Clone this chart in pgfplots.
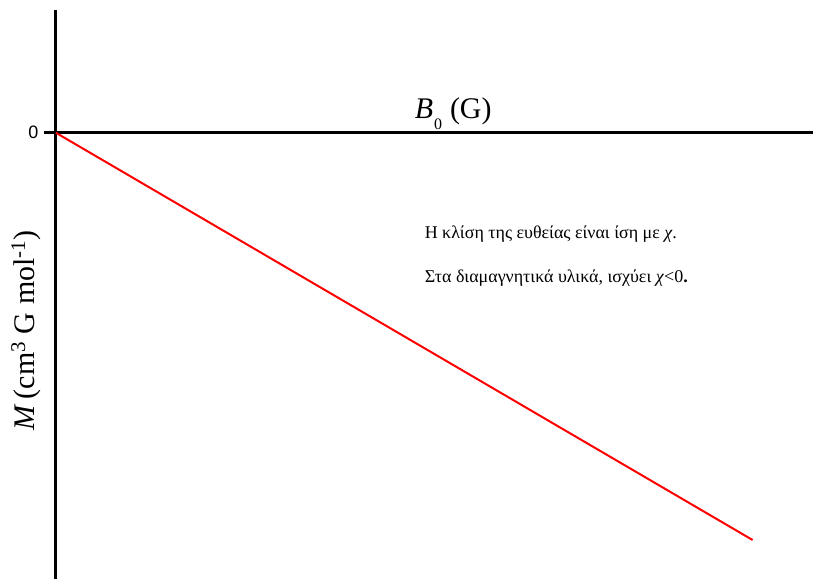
\documentclass[border=0pt]{standalone}
\usepackage{pgfplots}
\pgfplotsset{compat=1.18}
\usepackage{fontspec}
\setmainfont{Liberation Serif}
\newfontfamily\sansf{Liberation Sans}

\begin{document}
\begin{tikzpicture}[x=1pt,y=1pt]
\begin{axis}[
  at={(0pt,123pt)}, anchor=north west,
  width=758pt, height=570pt, scale only axis,
  xmin=0, xmax=758, ymin=-447, ymax=123,
  axis x line*=middle, axis y line*=left,
  axis line style={line width=3pt, black},
  xtick=\empty, ytick={0},
  yticklabels={{\sansf\fontsize{18}{18}\selectfont 0}},
  tick align=outside, major tick length=12pt,
  ytick style={line width=3pt, black},
  yticklabel style={xshift=-2pt},
  clip=false,
]
% magnetisation of a diamagnet: M = chi * B0 with chi < 0
\addplot[red, line width=2pt] coordinates {(0,0) (698,-408)};

\node[anchor=base, font=\fontsize{30}{32}\selectfont] at (axis cs:398,14)
  {\textit{B}\hspace{1pt}\raisebox{-11pt}{\fontsize{16}{16}\selectfont 0}\hspace{8pt}(G)};
\node[rotate=90, font=\fontsize{30}{32}\selectfont] at (axis cs:-30,-198)
  {\textit{M}\,(cm\textsuperscript{3} G mol\textsuperscript{-1})};

\node[anchor=base west, font=\fontsize{18}{20}\selectfont] at (axis cs:366,-106)
  {Η κλίση της ευθείας είναι ίση με \textit{χ}.};
\node[anchor=base west, font=\fontsize{18}{20}\selectfont] at (axis cs:366,-150)
  {Στα διαμαγνητικά υλικά, ισχύει \textit{χ}<0\textbf{.}};
\end{axis}
\useasboundingbox (-56pt,-447pt) rectangle (758pt,133pt);
\end{tikzpicture}
\end{document}
